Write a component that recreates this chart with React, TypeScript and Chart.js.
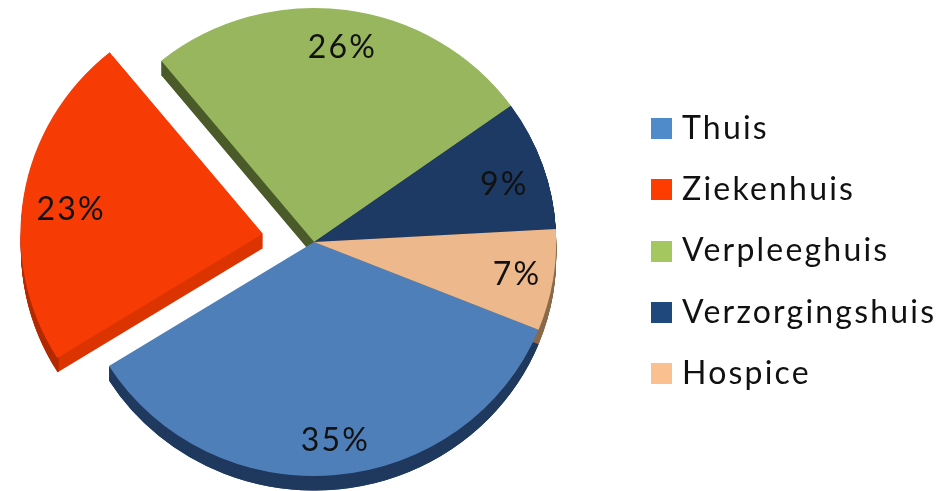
import React, { useEffect, useRef } from "react";
import { Chart, registerables } from "chart.js";

Chart.register(...registerables);

const categories = ["Thuis", "Ziekenhuis", "Verpleeghuis", "Verzorgingshuis", "Hospice"];
const shares = [35, 23, 26, 9, 7];
const explode = [0, 52, 0, 0, 0];
const sliceColors = ["#4F7FB9", "#F73B05", "#98B65E", "#1C3A63", "#EDB88B"];
const sideColors = ["#20395E", "#DC3400", "#4A5A28", "#16304F", "#8A6A4A"];
const rimColors = ["#20395E", "#B32A00", "#4A5A28", "#16304F", "#8A6A4A"];
const legendColors = ["#4F8BCB", "#FF3C00", "#A5C75F", "#1F497D", "#FAC090"];
const labelNudgeX = [4, 4, 2, 3, 7];
const labelNudgeY = [8, 7, -4, 6, 1];

const FONT = "Lato, 'Noto Sans', sans-serif";
const SQUASH = 0.967;
const DEPTH = 15;
const SPACING = "2.2px";

function swatch(color: string) {
  const c = document.createElement("canvas");
  c.width = 21;
  c.height = 21;
  const g = c.getContext("2d")!;
  g.fillStyle = color;
  g.fillRect(0, 0, 21, 21);
  return c;
}

const pie3d = {
  id: "pie3d",
  afterLayout(chart: any) {
    const lg = chart.legend;
    lg.left = 627.7;
    lg.right = 1000;
    const dy = 251 - (lg.top + lg.bottom) / 2;
    lg.top += dy;
    lg.bottom += dy;
  },
  beforeDraw(chart: any) {
    chart.ctx.letterSpacing = SPACING;
  },
  beforeDatasetDraw(chart: any) {
    const ctx = chart.ctx;
    const arcs = chart.getDatasetMeta(0).data;
    const cy = arcs[0].y;
    ctx.save();
    ctx.translate(0, cy);
    ctx.scale(1, SQUASH);
    ctx.translate(0, -cy);
    arcs.forEach((arc: any, i: number) => {
      const off = (arc.options.offset || 0) / 4;
      const mid = (arc.startAngle + arc.endAngle) / 2;
      const x = arc.x + Math.cos(mid) * off;
      const y = arc.y + Math.sin(mid) * off;
      ctx.fillStyle = sideColors[i];
      for (let d = 1; d <= DEPTH; d++) {
        ctx.beginPath();
        ctx.moveTo(x, y + d);
        ctx.arc(x, y + d, arc.outerRadius, arc.startAngle, arc.endAngle);
        ctx.closePath();
        ctx.fill();
      }
      ctx.strokeStyle = rimColors[i];
      ctx.lineWidth = 1.5;
      for (let d = 1; d <= DEPTH; d++) {
        ctx.beginPath();
        ctx.arc(x, y + d, arc.outerRadius - 0.75, arc.startAngle, arc.endAngle);
        ctx.stroke();
      }
    });
  },
  afterDatasetDraw(chart: any) {
    const ctx = chart.ctx;
    ctx.restore();
    const arcs = chart.getDatasetMeta(0).data;
    ctx.save();
    ctx.font = `32px ${FONT}`;
    ctx.fillStyle = "#111";
    ctx.textAlign = "center";
    ctx.textBaseline = "middle";
    arcs.forEach((arc: any, i: number) => {
      const off = (arc.options.offset || 0) / 4;
      const mid = (arc.startAngle + arc.endAngle) / 2;
      const r = arc.outerRadius * 0.82 + off;
      ctx.fillText(
        `${shares[i]}%`,
        arc.x + Math.cos(mid) * r + labelNudgeX[i],
        arc.y + Math.sin(mid) * r * SQUASH + labelNudgeY[i]
      );
    });
    ctx.restore();
  },
};

export default function App() {
  const ref = useRef<HTMLCanvasElement>(null);
  useEffect(() => {
    const chart = new Chart(ref.current!, {
      type: "pie",
      data: {
        labels: categories,
        datasets: [
          {
            data: shares,
            backgroundColor: sliceColors,
            borderWidth: 0,
            offset: explode.map((v) => v * 4),
            radius: 242,
          } as any,
        ],
      },
      options: {
        responsive: false,
        animation: false,
        rotation: 112,
        layout: { padding: { left: 0, right: 33, bottom: 7 } },
        plugins: {
          tooltip: { enabled: false },
          legend: {
            position: "right",
            labels: {
              color: "#111",
              font: { family: FONT, size: 32 },
              padding: 29.3,
              boxWidth: 9,
              boxHeight: 9,
              usePointStyle: true,
              generateLabels: () =>
                categories.map((text, i) => ({
                  text,
                  index: i,
                  lineWidth: 0,
                  hidden: false,
                  fontColor: "#111",
                  pointStyle: swatch(legendColors[i]),
                })) as any,
            },
          },
        },
      },
      plugins: [pie3d],
    } as any);
    return () => chart.destroy();
  }, []);
  return (
    <div style={{ position: "fixed", left: 0, top: 0, width: 947, height: 491, background: "#fff" }}>
      <canvas ref={ref} width={947} height={491} style={{ display: "block", filter: "blur(0.5px)" }} />
    </div>
  );
}
